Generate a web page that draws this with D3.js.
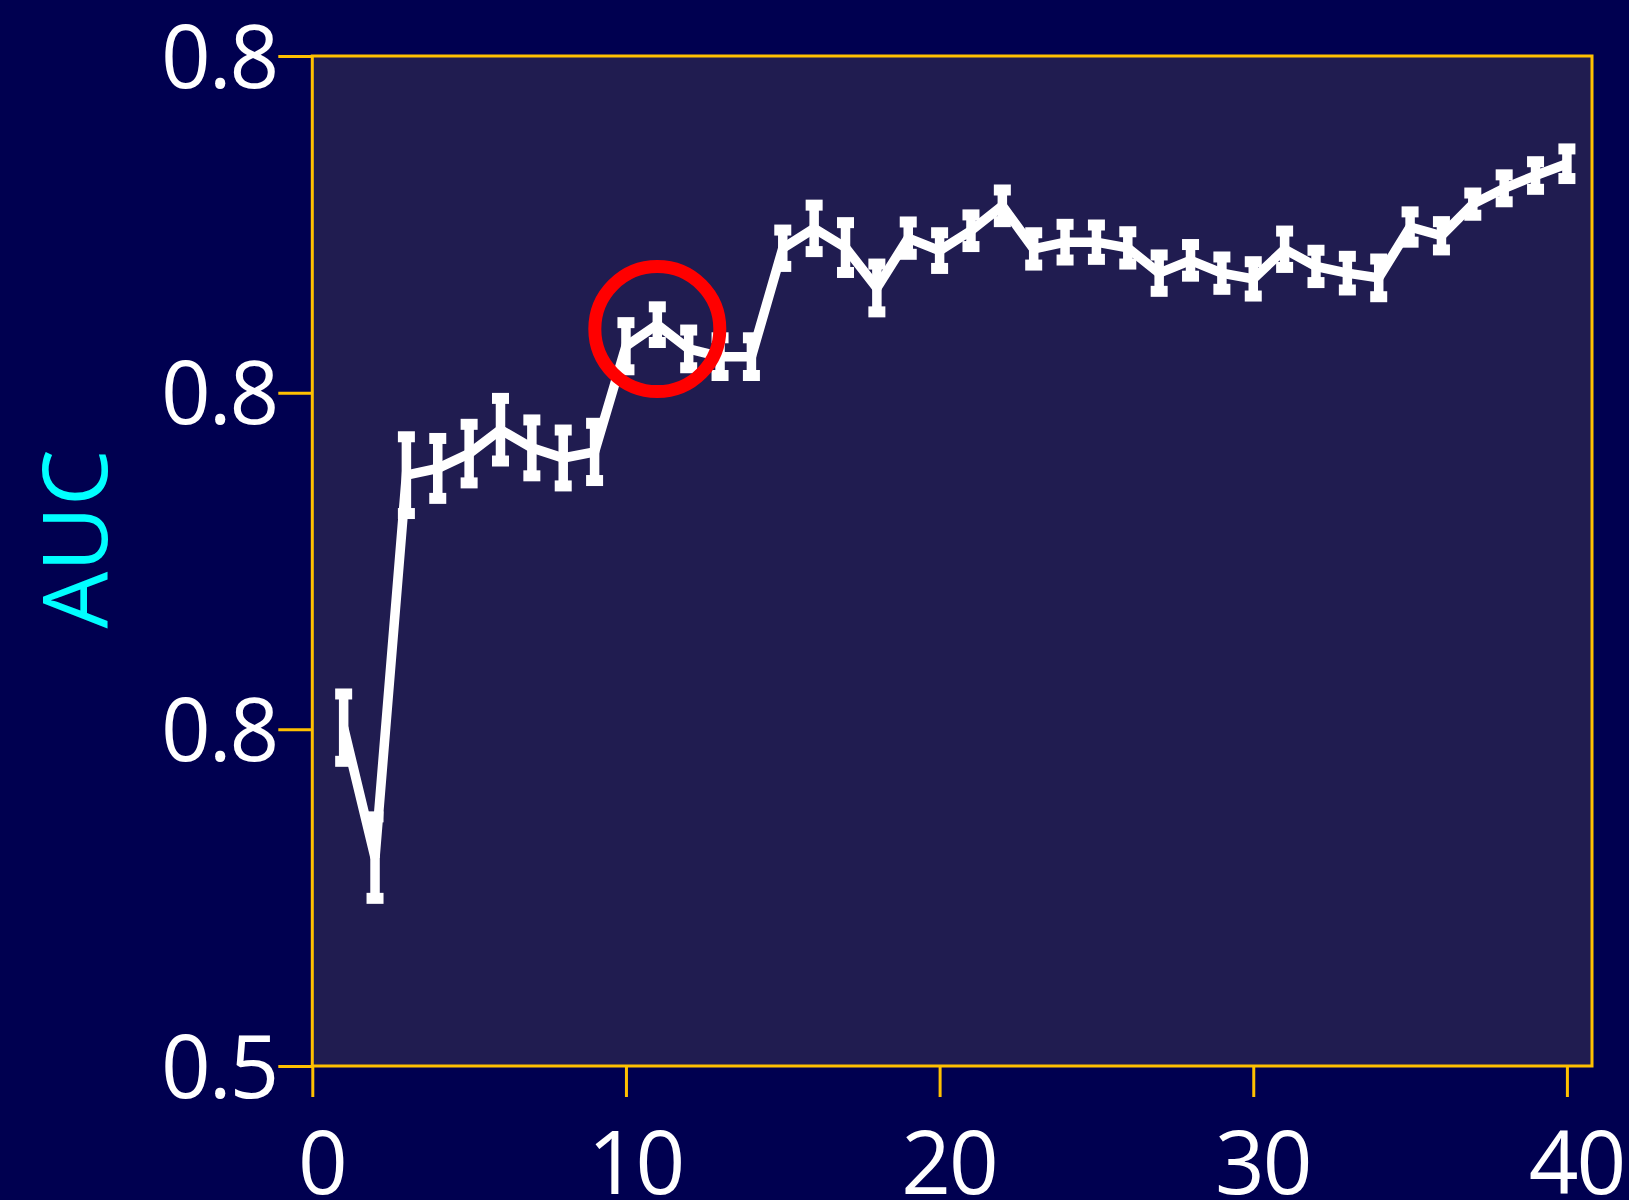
<!DOCTYPE html>
<html>
<head>
<meta charset="utf-8">
<script src="https://cdn.jsdelivr.net/npm/d3@7"></script>
<style>
  html, body { margin: 0; padding: 0; background: #000050; }
  svg { display: block; }
  text { font-family: "Open Sans", "Noto Sans", sans-serif; }
</style>
</head>
<body>
<svg id="chart" width="1629" height="1200"></svg>
<script>
// Number of features / epochs on the x axis
const steps = d3.range(1, 41);

// Mean AUC at each step
const aucMean = [
  0.6005, 0.5619, 0.6755, 0.6775, 0.6819, 0.6890, 0.6836, 0.6806, 0.6824, 0.7138,
  0.7202, 0.7130, 0.7107, 0.7107, 0.7429, 0.7488, 0.7431, 0.7311, 0.7459, 0.7422,
  0.7481, 0.7555, 0.7427, 0.7447, 0.7447, 0.7430, 0.7355, 0.7393, 0.7355, 0.7338,
  0.7426, 0.7375, 0.7355, 0.7341, 0.7492, 0.7466, 0.7560, 0.7607, 0.7645, 0.7680
];

// Half-width of the error bar at each step
const aucErr = [
  0.0100, 0.0121, 0.0114, 0.0089, 0.0087, 0.0093, 0.0083, 0.0083, 0.0085, 0.0070,
  0.0053, 0.0056, 0.0056, 0.0056, 0.0054, 0.0069, 0.0074, 0.0071, 0.0048, 0.0053,
  0.0047, 0.0047, 0.0048, 0.0053, 0.0051, 0.0048, 0.0054, 0.0047, 0.0048, 0.0051,
  0.0054, 0.0048, 0.0050, 0.0056, 0.0045, 0.0042, 0.0033, 0.0040, 0.0041, 0.0044
];

// Axis ticks and their printed labels
const xTicks = [0, 10, 20, 30, 40];
const yTicks = [0.5, 0.6, 0.7, 0.8];
const yTickLabels = ["0.5", "0.8", "0.8", "0.8"];

// Highlighted point (circled in red)
const highlightStep = [11];
const highlightValue = [0.7189];

const yLabel = "AUC";

const svg = d3.select("#chart");
const W = 1629, H = 1200;
const plot = { left: 312.3, right: 1592, top: 56, bottom: 1066 };

const x = d3.scaleLinear().domain([0, 40.8]).range([plot.left, plot.right]);
const y = d3.scaleLinear().domain([0.5, 0.8]).range([plot.bottom, plot.top]);

const gold = "#ffc000";

svg.append("rect").attr("width", W).attr("height", H).attr("fill", "#000050");

// plot panel
svg.append("rect")
  .attr("x", plot.left).attr("y", plot.top)
  .attr("width", plot.right - plot.left).attr("height", plot.bottom - plot.top)
  .attr("fill", "#201c50")
  .attr("stroke", gold).attr("stroke-width", 3);

// y axis
const yAxis = d3.axisLeft(y)
  .tickValues(yTicks)
  .tickSize(34)
  .tickPadding(1)
  .tickFormat((d, i) => yTickLabels[i]);
const gy = svg.append("g").attr("transform", `translate(${plot.left},0)`).call(yAxis);
gy.select(".domain").remove();
gy.selectAll(".tick line").attr("stroke", gold).attr("stroke-width", 3);
gy.selectAll(".tick text")
  .attr("fill", "#ffffff")
  .attr("font-size", 87)
  .attr("letter-spacing", "-2px")
  .attr("dy", "0.36em");

// x axis
const xAxis = d3.axisBottom(x)
  .tickValues(xTicks)
  .tickSize(31)
  .tickPadding(2)
  .tickFormat(d3.format("d"));
const gx = svg.append("g").attr("transform", `translate(0,${plot.bottom})`).call(xAxis);
gx.select(".domain").remove();
gx.selectAll(".tick line").attr("stroke", gold).attr("stroke-width", 3);
gx.selectAll(".tick text")
  .attr("fill", "#ffffff")
  .attr("font-size", 87)
  .attr("letter-spacing", "-2px")
  .attr("dx", 9)
  .attr("y", 128)
  .attr("dy", 0);

// y axis title
svg.append("text")
  .attr("transform", `translate(107,539) rotate(-90)`)
  .attr("text-anchor", "middle")
  .attr("fill", "#00ffff")
  .attr("font-size", 90)
  .text(yLabel);

const data = steps.map((s, i) => ({ s, m: aucMean[i], e: aucErr[i] }));

// error bars
const eb = svg.append("g").attr("class", "errorbars");
eb.selectAll("line")
  .data(data)
  .join("line")
  .attr("x1", d => x(d.s)).attr("x2", d => x(d.s))
  .attr("y1", d => y(d.m - d.e)).attr("y2", d => y(d.m + d.e))
  .attr("stroke", "#ffffff").attr("stroke-width", 9.5);

const caps = data.flatMap(d => [{ s: d.s, v: d.m - d.e }, { s: d.s, v: d.m + d.e }]);
eb.selectAll("rect")
  .data(caps)
  .join("rect")
  .attr("x", d => x(d.s) - 8.5)
  .attr("y", d => y(d.v) - 5.5)
  .attr("width", 17)
  .attr("height", 11)
  .attr("fill", "#ffffff");

// mean line
svg.append("path")
  .datum(data)
  .attr("fill", "none")
  .attr("stroke", "#ffffff")
  .attr("stroke-width", 9.5)
  .attr("stroke-linejoin", "miter")
  .attr("d", d3.line().x(d => x(d.s)).y(d => y(d.m)));

// highlight circle
svg.selectAll("circle.highlight")
  .data(highlightStep.map((s, i) => ({ s, v: highlightValue[i] })))
  .join("circle")
  .attr("class", "highlight")
  .attr("cx", d => x(d.s))
  .attr("cy", d => y(d.v))
  .attr("r", 62.5)
  .attr("fill", "none")
  .attr("stroke", "#ff0000")
  .attr("stroke-width", 13);
</script>
</body>
</html>
